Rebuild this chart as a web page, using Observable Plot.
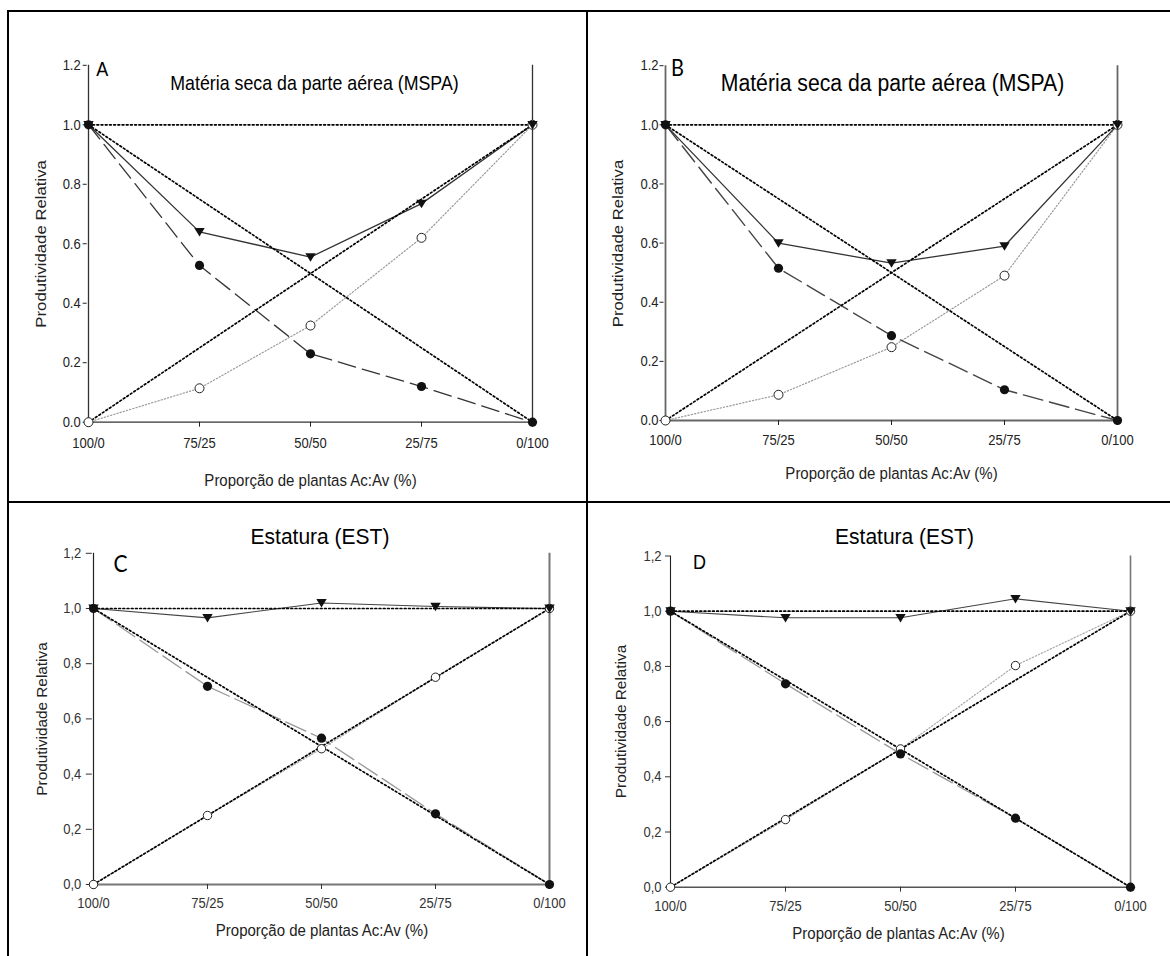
<!DOCTYPE html>
<html><head><meta charset="utf-8">
<script src="https://cdn.jsdelivr.net/npm/d3@7"></script>
<script src="https://cdn.jsdelivr.net/npm/@observablehq/plot@0.6"></script>
<style>
html,body{margin:0;padding:0;background:#fff;}
#root{position:relative;width:1170px;height:956px;overflow:hidden;background:#fff;}
#root svg{position:absolute;overflow:visible;}
.bl{position:absolute;background:#000;}
</style></head><body><div id="root"></div>
<script>
// ---- data ----
const categories = ["100/0", "75/25", "50/50", "25/75", "0/100"];
const yTicks = [0, 0.2, 0.4, 0.6, 0.8, 1.0, 1.2];
const yTickLabelsPoint = ["0.0", "0.2", "0.4", "0.6", "0.8", "1.0", "1.2"];
const yTickLabelsComma = ["0,0", "0,2", "0,4", "0,6", "0,8", "1,0", "1,2"];
const titleMSPA = "Matéria seca da parte aérea (MSPA)";
const titleEST = "Estatura (EST)";
const yLabel = "Produtividade Relativa";
const xLabel = "Proporção de plantas Ac:Av (%)";
const panelLetters = ["A", "B", "C", "D"];

// expected (reference) lines, end points only
const refEnds = ["100/0", "0/100"];
const refTotal = [1, 1];
const refAc = [1, 0];
const refAv = [0, 1];

// Panel A – MSPA
const totalA = [1.0, 0.64, 0.555, 0.735, 1.0];
const acA = [1.0, 0.527, 0.23, 0.12, 0.0];
const avA = [0.0, 0.114, 0.325, 0.62, 1.0];
// Panel B – MSPA
const totalB = [1.0, 0.60, 0.532, 0.59, 1.0];
const acB = [1.0, 0.515, 0.287, 0.104, 0.0];
const avB = [0.0, 0.087, 0.248, 0.49, 1.0];
// Panel C – EST
const totalC = [1.0, 0.966, 1.02, 1.007, 1.0];
const acC = [1.0, 0.718, 0.53, 0.256, 0.0];
const avC = [0.0, 0.25, 0.492, 0.751, 1.0];
// Panel D – EST
const totalD = [1.0, 0.976, 0.976, 1.045, 1.0];
const acD = [1.0, 0.737, 0.483, 0.25, 0.0];
const avD = [0.0, 0.245, 0.501, 0.803, 1.0];

// ---- helpers ----
const rows = (vals) => categories.map((c, i) => ({x: c, y: vals[i]}));
const refRows = (vals) => refEnds.map((c, i) => ({x: c, y: vals[i]}));
const triDown = {draw(ctx) { ctx.moveTo(-5.2, -3.9); ctx.lineTo(5.2, -3.9); ctx.lineTo(0, 4.6); ctx.closePath(); }};

const root = document.getElementById("root");

function buildPanel(p) {
  const ml = p.x0 - p.left, mr = p.left + p.width - p.x1;
  const mt = p.y12 - p.top, mb = p.top + p.height - p.y0;
  const T = (str, px, py, o) => Plot.text([str], {
    text: d => d, frameAnchor: "top-left", dx: px - p.x0, dy: py - p.y12,
    textAnchor: "middle", lineAnchor: "middle", fill: "#000", ...o
  });
  const tickMap = new Map(yTicks.map((v, i) => [v, p.tickLabels[i]]));
  const refStyle = {x: "x", y: "y", stroke: "#000", strokeWidth: 1.7, strokeDasharray: "1.8,2.4"};
  const svg = Plot.plot({
    width: p.width, height: p.height,
    marginLeft: ml, marginRight: mr, marginTop: mt, marginBottom: mb,
    x: {type: "point", domain: categories, padding: 0},
    y: {domain: [0, 1.2]},
    style: {fontFamily: "'Liberation Sans', Arial, sans-serif", background: "transparent", overflow: "visible"},
    marks: [
      Plot.ruleX([categories[0]], {y1: 0, y2: 1.2, stroke: p.axL, strokeWidth: p.axLW}),
      Plot.ruleX([categories[4]], {y1: 0, y2: 1.2, stroke: p.axR, strokeWidth: p.axRW}),
      Plot.ruleY([0], {stroke: p.axB, strokeWidth: p.axBW}),
      Plot.axisY({ticks: yTicks, tickFormat: d => tickMap.get(d), tickSize: p.ytS, tickPadding: p.ytP,
        fontSize: p.tickFont, label: null, color: p.tickColor, strokeWidth: 1}),
      Plot.axisX({tickSize: 5, tickPadding: p.xtP, fontSize: p.tickFont, label: null, color: p.tickColor, strokeWidth: 1}),
      Plot.line(rows(p.av), {x: "x", y: "y", stroke: p.avColor, strokeWidth: 1.2, strokeDasharray: "1.3,2"}),
      Plot.line(rows(p.ac), {x: "x", y: "y", stroke: p.acColor, strokeWidth: p.acW, strokeDasharray: p.acDash}),
      Plot.line(rows(p.total), {x: "x", y: "y", stroke: p.totColor, strokeWidth: p.totW}),
      Plot.line(refRows(refTotal), refStyle),
      Plot.line(refRows(refAc), refStyle),
      Plot.line(refRows(refAv), refStyle),
      Plot.dot(rows(p.av), {x: "x", y: "y", r: p.rOpen, fill: "#fff", stroke: "#222", strokeWidth: 1}),
      Plot.dot(rows(p.total), {x: "x", y: "y", symbol: triDown, r: 4, fill: "#111", stroke: "none"}),
      Plot.dot(rows(p.ac), {x: "x", y: "y", r: 4.6, fill: "#111", stroke: "none"}),
      T(p.letter, p.letterX, p.letterY, {fontSize: p.letterSize, fontFamily: p.letterFont}),
      T(p.title, p.titleX, p.titleY, {fontSize: p.titleSize}),
      T(yLabel, p.ylX, p.ylY, {fontSize: p.ylSize, rotate: -90, fill: "#222"}),
      T(xLabel, p.xlX, p.xlY, {fontSize: p.xlSize, fill: "#222"})
    ]
  });
  svg.style.left = p.left + "px";
  svg.style.top = p.top + "px";
  d3.select(svg).selectAll("text").each(function() {
    const t = this.getAttribute("transform");
    if (t && /^translate\(/.test(t)) {
      this.setAttribute("transform", t.replace(/^(translate\([^)]*\))/, `$1 scale(1,${p.stretch})`));
    }
  });
  root.appendChild(svg);
}

const common = {tickLabels: yTickLabelsPoint, stretch: 1.14, tickFont: 13, tickColor: "#222",
  xlSize: 15, ylSize: 14.7, rOpen: 4.5, avColor: "#9a9a9a"};

buildPanel({...common, left: 0, top: 0, width: 587, height: 502,
  x0: 86.7, x1: 534, y0: 421.7, y12: 64.8,
  total: totalA, ac: acA, av: avA,
  axL: "#333", axLW: 1.3, axR: "#333", axRW: 1.3, axB: "#333", axBW: 1.3,
  ytS: 4, ytP: 2.5, xtP: 10,
  acColor: "#333", acW: 1.3, acDash: "18,7", totColor: "#333", totW: 1.3,
  letter: panelLetters[0], letterX: 101.7, letterY: 68.5, letterSize: 18, letterFont: "'Liberation Sans', Arial, sans-serif",
  title: titleMSPA, titleX: 314, titleY: 83, titleSize: 17.8,
  ylX: 41, ylY: 243.4, xlX: 310, xlY: 480});

buildPanel({...common, left: 587, top: 0, width: 583, height: 502,
  x0: 663.5, x1: 1118.7, y0: 420, y12: 65.2,
  total: totalB, ac: acB, av: avB,
  axL: "#666", axLW: 1.8, axR: "#666", axRW: 1.8, axB: "#666", axBW: 1.8,
  ytS: 4, ytP: 1.5, xtP: 9,
  acColor: "#444", acW: 1.4, acDash: "20,7", totColor: "#333", totW: 1.3,
  letter: panelLetters[1], letterX: 677, letterY: 68, letterSize: 20, letterFont: "Lato, 'Open Sans', sans-serif",
  title: titleMSPA, titleX: 892, titleY: 83, titleSize: 21.2,
  ylX: 618, ylY: 243, xlX: 891, xlY: 473});

const commonCD = {...common, tickLabels: yTickLabelsComma, stretch: 1.08, tickFont: 13, tickColor: "#333",
  ylSize: 14.2, xlSize: 15, rOpen: 4.2, avColor: "#a8a8a8"};

buildPanel({...commonCD, left: 0, top: 502, width: 587, height: 454,
  x0: 91.8, x1: 551, y0: 884, y12: 552.8,
  total: totalC, ac: acC, av: avC,
  axL: "#222", axLW: 1.2, axR: "#777", axRW: 2, axB: "#777", axBW: 2,
  ytS: 6, ytP: 5, xtP: 9,
  acColor: "#999", acW: 1.3, acDash: "22,6", totColor: "#444", totW: 1.1,
  letter: panelLetters[2], letterX: 120, letterY: 564, letterSize: 21, letterFont: "Lato, 'Open Sans', sans-serif",
  title: titleEST, titleX: 319.5, titleY: 536, titleSize: 21,
  ylX: 42, ylY: 718.5, xlX: 321.5, xlY: 930});

buildPanel({...commonCD, left: 587, top: 502, width: 583, height: 454,
  x0: 670, x1: 1130, y0: 886.7, y12: 555.5,
  total: totalD, ac: acD, av: avD,
  axL: "#222", axLW: 1.1, axR: "#777", axRW: 1.6, axB: "#555", axBW: 1.6,
  ytS: 5, ytP: 4, xtP: 9,
  acColor: "#999", acW: 1.3, acDash: "22,6", totColor: "#444", totW: 1.1,
  letter: panelLetters[3], letterX: 699, letterY: 562, letterSize: 18, letterFont: "'Liberation Sans', Arial, sans-serif",
  title: titleEST, titleX: 904, titleY: 536, titleSize: 21,
  ylX: 621.4, ylY: 721, xlX: 898, xlY: 933});

// table borders
[[8, 10, 1162, 1.5], [7, 10, 2, 946], [586, 10, 2, 946], [8, 501, 1162, 2]].forEach(([l, t, w, h]) => {
  const d = document.createElement("div");
  d.className = "bl";
  Object.assign(d.style, {left: l + "px", top: t + "px", width: w + "px", height: h + "px"});
  root.appendChild(d);
});
</script></body></html>
